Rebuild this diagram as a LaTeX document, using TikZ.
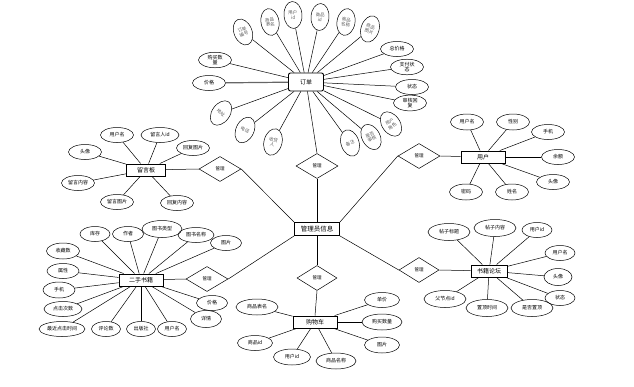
\documentclass[tikz,border=0pt]{standalone}
\usepackage{fontspec}
\setmainfont{Noto Sans CJK SC}
\usetikzlibrary{shapes.geometric}
\tikzstyle{entity} = [rectangle, draw=black, line width=0.9pt, fill=white, minimum width=44pt, minimum height=12pt, inner sep=1pt, font=\fontsize{6}{7}\selectfont]
\tikzstyle{attr} = [ellipse, draw=black, line width=0.5pt, minimum width=33pt, minimum height=15pt, inner sep=0.5pt, align=center, font=\fontsize{5}{5.5}\selectfont]
\tikzstyle{wattr} = [attr, minimum width=42pt, minimum height=17pt]
\tikzstyle{vattr} = [attr, minimum width=18pt, minimum height=27pt, text=black!65, font=\fontsize{4.5}{5}\selectfont]
\tikzstyle{rel} = [diamond, draw=black, line width=0.5pt, minimum width=42pt, minimum height=25pt, inner sep=0pt, font=\fontsize{4.5}{4.5}\selectfont]
\tikzstyle{link} = [line width=0.5pt]

\begin{document}
\begin{tikzpicture}[x=1pt, y=-1pt]
  \useasboundingbox (0,0) rectangle (634,386);
  % centre
  \node[entity, minimum width=45pt, minimum height=13pt, font=\fontsize{6.5}{7}\selectfont] (admin) at (317,229) {管理员信息};
  \node[rel] (rTop) at (317,166) {管理};
  \node[rel, minimum width=40pt] (rCart) at (317,278) {管理};
  \node[rel] (rBoard) at (220,169) {管理};
  \node[rel] (rUser) at (419,156) {管理};
  \node[rel] (rBook) at (207,279) {管理};
  \node[rel, minimum width=40pt] (rForum) at (419,270) {管理};

  % 订单
  \node[entity, rounded corners=2pt, minimum width=35pt, minimum height=18pt] (order) at (306,82) {订单};
  \node[vattr, rotate=22] (oNo) at (243,32) {订单\\编号};
  \node[vattr, rotate=10] (oTable) at (270,22) {商品\\表名};
  \node[vattr, rotate=4] (oUid) at (293,15) {用户\\id};
  \node[vattr, rotate=-4] (oGid) at (320,17) {商品\\id};
  \node[vattr, rotate=-10] (oGname) at (346,22) {商品\\名称};
  \node[vattr, rotate=-18] (oGpic) at (370,29) {商品\\图片};
  \node[attr] (oTotal) at (397,49) {总价格};
  \node[attr] (oPay) at (407,67) {支付状\\态};
  \node[attr] (oState) at (412,87) {状态};
  \node[attr] (oReply) at (410,103) {审核回\\复};
  \node[vattr, rotate=35] (oRole) at (391,124) {用户\\角色};
  \node[vattr, rotate=28] (oCheck) at (371,137) {是否\\审核};
  \node[vattr, rotate=18] (oNote) at (350,143) {备注};
  \node[vattr, rotate=-15] (oRecv) at (273,142) {收货\\人};
  \node[vattr, rotate=-25] (oTel) at (245,130) {电话};
  \node[vattr, rotate=-35] (oAddr) at (221,113) {地址};
  \node[attr] (oPrice) at (209,83) {价格};
  \node[attr] (oNum) at (215,60) {购买数\\量};

  % 留言板
  \node[entity, minimum width=39pt] (board) at (146,170) {留言板};
  \node[attr] (bUser) at (117,135) {用户名};
  \node[attr, minimum width=38pt] (bUid) at (160,135) {留言人id};
  \node[attr] (bRpic) at (193,148) {回复图片};
  \node[attr] (bHead) at (85,152) {头像};
  \node[attr] (bText) at (78,183) {留言内容};
  \node[attr] (bPic) at (117,202) {留言图片};
  \node[attr] (bRtext) at (177,203) {回复内容};

  % 用户
  \node[entity] (user) at (483,157) {用户};
  \node[attr, minimum height=16pt] (uName) at (467,122) {用户名};
  \node[attr, minimum height=16pt] (uSex) at (513,122) {性别};
  \node[attr] (uTel) at (548,132) {手机};
  \node[attr] (uMoney) at (558,157) {余额};
  \node[attr] (uHead) at (553,182) {头像};
  \node[attr, minimum height=16pt] (uPwd) at (466,192) {密码};
  \node[attr, minimum height=16pt] (uReal) at (512,192) {姓名};

  % 二手书籍
  \node[entity] (book) at (141,280) {二手书籍};
  \node[attr, minimum width=30pt] (kStock) at (95,234) {库存};
  \node[attr, minimum width=31pt] (kAuthor) at (128,234) {作者};
  \node[attr, minimum width=40pt, minimum height=17pt] (kType) at (162,229) {图书类型};
  \node[attr, minimum width=36pt] (kName) at (196,235) {图书名称};
  \node[attr, minimum width=31pt] (kPic) at (226,243) {图片};
  \node[attr, minimum height=16pt] (kFav) at (63,251) {收藏数};
  \node[attr, minimum width=32pt] (kAttr) at (63,271) {属性};
  \node[attr, minimum width=32pt, minimum height=16pt] (kTel) at (59,290) {手机};
  \node[attr, minimum width=38pt] (kClick) at (63,309) {点击次数};
  \node[attr, minimum width=46pt] (kTime) at (62,329) {最近点击时间};
  \node[attr, minimum width=29pt] (kCmt) at (106,329) {评论数};
  \node[attr, minimum width=29pt] (kPress) at (141,329) {出版社};
  \node[attr, minimum width=29pt] (kUser) at (172,329) {用户名};
  \node[attr, minimum width=31pt, minimum height=17pt] (kInfo) at (206,319) {详情};
  \node[attr, minimum width=31pt] (kPrice) at (212,303) {价格};

  % 书籍论坛
  \node[entity, minimum width=36pt] (forum) at (489,271) {书籍论坛};
  \node[wattr] (fTitle) at (449,232) {帖子标题};
  \node[wattr] (fText) at (495,228) {帖子内容};
  \node[attr, minimum width=30pt] (fUid) at (537,230) {用户id};
  \node[attr, minimum width=30pt] (fUser) at (560,253) {用户名};
  \node[attr, minimum width=28pt, minimum height=17pt] (fHead) at (558,277) {头像};
  \node[attr, minimum width=30pt] (fState) at (560,298) {状态};
  \node[wattr] (fTop) at (532,308) {是否置顶};
  \node[wattr] (fTime) at (487,308) {置顶时间};
  \node[wattr] (fParent) at (445,299) {父节点id};

  % 购物车
  \node[entity] (cart) at (315,322) {购物车};
  \node[wattr, minimum height=16pt] (cTable) at (257,307) {商品表名};
  \node[attr, minimum width=35pt] (cGid) at (255,343) {商品id};
  \node[attr, minimum width=37pt, minimum height=16pt] (cUid) at (292,357) {用户id};
  \node[attr, minimum width=40pt, minimum height=16pt] (cGname) at (336,361) {商品名称};
  \node[attr, minimum width=35pt] (cPrice) at (382,300) {单价};
  \node[attr, minimum width=40pt, minimum height=16pt] (cNum) at (382,322) {购买数量};
  \node[attr, minimum width=35pt, minimum height=16pt] (cPic) at (382,345) {图片};

  % relations
  \draw[link] (order) -- (rTop.north);
  \draw[link] (rTop.south) -- (admin.north);
  \draw[link] (admin.south) -- (rCart.north);
  \draw[link] (rCart.south) -- (cart.north);
  \draw[link] (board) -- (rBoard.west);
  \draw[link] (rBoard.east) -- (admin.north west);
  \draw[link] (admin.north east) -- (rUser.west);
  \draw[link] (rUser.east) -- (user);
  \draw[link] (book) -- (rBook.west);
  \draw[link] (rBook.east) -- (admin.south west);
  \draw[link] (admin.south east) -- (rForum.west);
  \draw[link] (rForum.east) -- (forum);

  % attributes
  \draw[link] (order) -- (oNo);
  \draw[link] (order) -- (oTable);
  \draw[link] (order) -- (oUid);
  \draw[link] (order) -- (oGid);
  \draw[link] (order) -- (oGname);
  \draw[link] (order) -- (oGpic);
  \draw[link] (order) -- (oTotal);
  \draw[link] (order) -- (oPay);
  \draw[link] (order) -- (oState);
  \draw[link] (order) -- (oReply);
  \draw[link] (order) -- (oRole);
  \draw[link] (order) -- (oCheck);
  \draw[link] (order) -- (oNote);
  \draw[link] (order) -- (oRecv);
  \draw[link] (order) -- (oTel);
  \draw[link] (order) -- (oAddr);
  \draw[link, line width=1.2pt, black!60] (order) -- (oPrice);
  \draw[link] (order) -- (oNum);

  \draw[link] (board) -- (bUser);
  \draw[link] (board) -- (bUid);
  \draw[link] (board) -- (bRpic);
  \draw[link] (board) -- (bHead);
  \draw[link] (board) -- (bText);
  \draw[link] (board) -- (bPic);
  \draw[link] (board) -- (bRtext);

  \draw[link] (user) -- (uName);
  \draw[link] (user) -- (uSex);
  \draw[link] (user) -- (uTel);
  \draw[link] (user) -- (uMoney);
  \draw[link] (user) -- (uHead);
  \draw[link] (user) -- (uPwd);
  \draw[link] (user) -- (uReal);

  \draw[link] (book) -- (kStock);
  \draw[link] (book) -- (kAuthor);
  \draw[link] (book) -- (kType);
  \draw[link] (book) -- (kName);
  \draw[link] (book) -- (kPic);
  \draw[link] (book) -- (kFav);
  \draw[link] (book) -- (kAttr);
  \draw[link] (book) -- (kTel);
  \draw[link] (book) -- (kClick);
  \draw[link] (book) -- (kTime);
  \draw[link] (book) -- (kCmt);
  \draw[link] (book) -- (kPress);
  \draw[link] (book) -- (kUser);
  \draw[link] (book) -- (kInfo);
  \draw[link] (book) -- (kPrice);

  \draw[link] (forum) -- (fTitle);
  \draw[link] (forum) -- (fText);
  \draw[link] (forum) -- (fUid);
  \draw[link] (forum) -- (fUser);
  \draw[link] (forum) -- (fHead);
  \draw[link] (forum) -- (fState);
  \draw[link] (forum) -- (fTop);
  \draw[link] (forum) -- (fTime);
  \draw[link] (forum) -- (fParent);

  \draw[link] (cart) -- (cTable);
  \draw[link] (cart) -- (cGid);
  \draw[link] (cart) -- (cUid);
  \draw[link] (cart) -- (cGname);
  \draw[link] (cart) -- (cPrice);
  \draw[link] (cart) -- (cNum);
  \draw[link] (cart) -- (cPic);
\end{tikzpicture}
\end{document}
